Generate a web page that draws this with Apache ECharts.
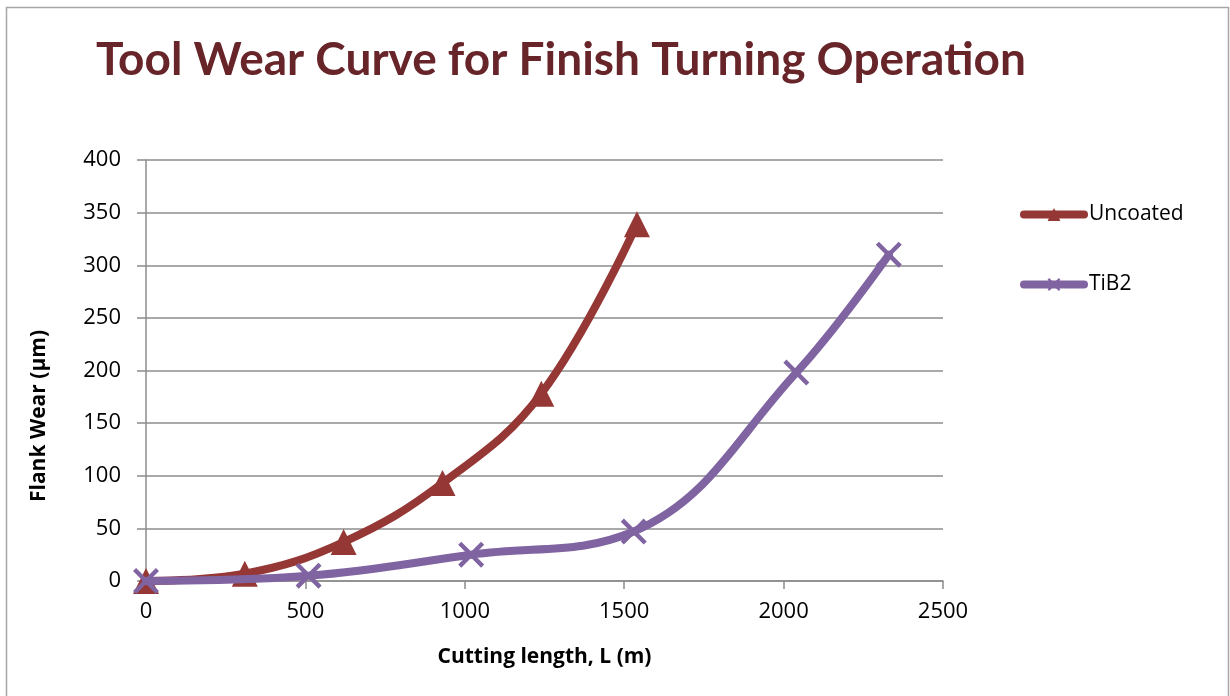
<!DOCTYPE html>
<html>
<head>
<meta charset="utf-8">
<script src="https://cdn.jsdelivr.net/npm/echarts@6/dist/echarts.min.js"></script>
<style>
  html, body { margin: 0; padding: 0; background: #ffffff; }
  #chart { width: 1230px; height: 696px; }
</style>
</head>
<body>
<div id="chart"></div>
<script>
// Flank wear measured against cutting length for two tool types
const uncoatedLength = [0, 310, 620, 930, 1240, 1540];
const uncoatedWear   = [0, 7, 37, 93, 178, 339];
const tib2Length     = [0, 510, 1020, 1530, 2040, 2330];
const tib2Wear       = [0, 5, 25, 47, 198, 310];
const seriesNames    = ['Uncoated', 'TiB2'];

const pairs = (xs, ys) => xs.map((x, i) => [x, ys[i]]);

// X-shaped marker made of two diagonal bars
const crossSymbol = 'path://M0,12 L12,0 L100,88 L88,100 Z M88,0 L100,12 L12,100 L0,88 Z';

const FONT = '"Open Sans", "Liberation Sans", sans-serif';
const gridColor = '#8c8c8c';

const chart = echarts.init(document.getElementById('chart'), null, { renderer: 'canvas' });

chart.setOption({
  backgroundColor: '#ffffff',
  animation: false,
  title: {
    text: 'Tool Wear Curve for Finish Turning Operation',
    left: 556,
    top: 32,
    textAlign: 'center',
    textStyle: { fontFamily: 'Lato, ' + FONT, fontWeight: 'bold', fontSize: 46, color: '#67252a' }
  },
  grid: { left: 146, top: 160, width: 797, height: 421, containLabel: false },
  legend: {
    orient: 'vertical',
    left: 1020,
    top: 204,
    padding: 0,
    itemGap: 49,
    itemWidth: 60,
    itemHeight: 16,
    data: seriesNames,
    lineStyle: { width: 8, cap: 'round' },
    textStyle: { fontFamily: FONT, fontSize: 21, color: '#000000' }
  },
  xAxis: {
    type: 'value',
    min: 0,
    max: 2500,
    interval: 500,
    axisLine: { show: true, lineStyle: { color: gridColor, width: 1.5 } },
    axisTick: { show: true, length: 8, lineStyle: { color: gridColor, width: 1.5 } },
    splitLine: { show: false },
    axisLabel: { margin: 20, fontFamily: FONT, fontSize: 22, color: '#000000', formatter: v => String(v) },
    name: 'Cutting length, L (m)',
    nameLocation: 'middle',
    nameGap: 66,
    nameTextStyle: { fontFamily: FONT, fontWeight: 'bold', fontSize: 21, color: '#000000' }
  },
  yAxis: {
    type: 'value',
    min: 0,
    max: 400,
    interval: 50,
    axisLine: { show: true, lineStyle: { color: gridColor, width: 1.5 } },
    axisTick: { show: true, length: 9, lineStyle: { color: gridColor, width: 1.5 } },
    splitLine: { show: true, lineStyle: { color: gridColor, width: 1.5 } },
    axisLabel: { margin: 25, fontFamily: FONT, fontSize: 22, color: '#000000', formatter: v => String(v) }
  },
  graphic: [
    {
      type: 'rect',
      silent: true,
      shape: { x: 6.5, y: 7.5, width: 1222, height: 700 },
      style: { fill: 'none', stroke: '#a6a6a6', lineWidth: 1.5 }
    },
    {
      type: 'text',
      silent: true,
      x: 39,
      y: 416,
      rotation: Math.PI / 2,
      style: {
        text: 'Flank Wear (µm)',
        fontFamily: FONT,
        fontWeight: 'bold',
        fontSize: 21,
        fill: '#000000',
        align: 'center',
        verticalAlign: 'middle'
      }
    }
  ],
  series: [
    {
      name: seriesNames[0],
      type: 'line',
      data: pairs(uncoatedLength, uncoatedWear),
      smooth: 0.4,
      symbol: 'triangle',
      symbolSize: 26,
      color: '#953735',
      lineStyle: { width: 8, color: '#953735', cap: 'round' },
      itemStyle: { color: '#953735' },
      z: 2
    },
    {
      name: seriesNames[1],
      type: 'line',
      data: pairs(tib2Length, tib2Wear),
      smooth: 0.4,
      symbol: crossSymbol,
      symbolSize: 26,
      color: '#8064a2',
      lineStyle: { width: 8, color: '#8064a2', cap: 'round' },
      itemStyle: { color: '#8064a2' },
      z: 3
    }
  ]
});
</script>
</body>
</html>
